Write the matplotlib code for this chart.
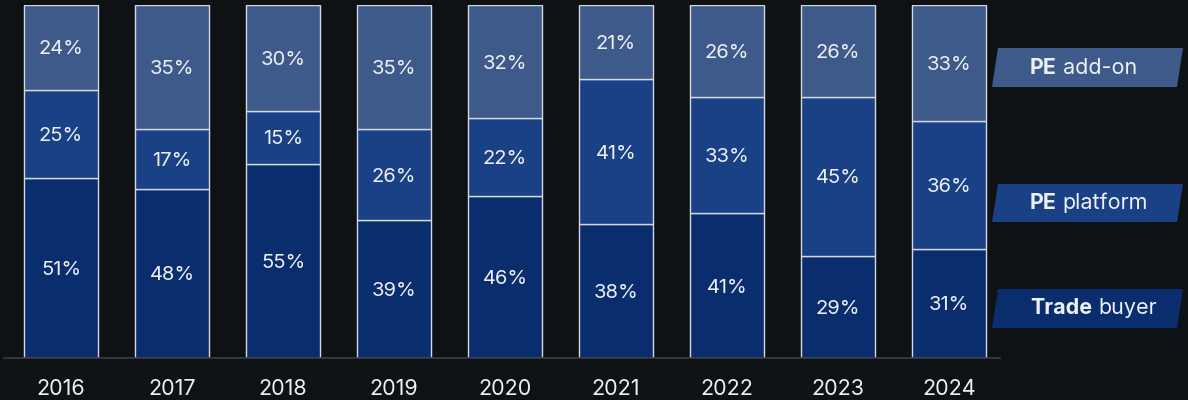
import matplotlib
matplotlib.use("Agg")
import matplotlib.pyplot as plt
from matplotlib.patches import Polygon
import numpy as np

years = ["2016", "2017", "2018", "2019", "2020", "2021", "2022", "2023", "2024"]
trade_buyer = [51, 48, 55, 39, 46, 38, 41, 29, 31]
pe_platform = [25, 17, 15, 26, 22, 41, 33, 45, 36]
pe_addon = [24, 35, 30, 35, 32, 21, 26, 26, 33]

series = [("Trade", "buyer", trade_buyer, "#0a2d6e"),
          ("PE", "platform", pe_platform, "#1a4185"),
          ("PE", "add-on", pe_addon, "#3d5a8a")]

BG = "#0f1215"
TXT = "#eef0f4"
plt.rcParams['font.family'] = ['Inter', 'DejaVu Sans']

W, H = 1188, 400
fig = plt.figure(figsize=(W / 100, H / 100), dpi=100, facecolor=BG)
ax = fig.add_axes([4 / W, 42 / H, 996 / W, 353 / H], facecolor=BG)

x = np.arange(len(years))
bottom = np.zeros(len(years))
for bold, rest, vals, col in series:
    vals = np.array(vals, dtype=float)
    ax.bar(x, vals, bottom=bottom, width=0.667, color=col,
           edgecolor="#d4d8e0", linewidth=1.0, zorder=2)
    for xi, b, v in zip(x, bottom, vals):
        ax.text(xi, b + v / 2 - 0.6, f"{int(v)}%", ha="center", va="center",
                color=TXT, fontsize=14.5, zorder=3)
    bottom += vals

ax.set_xlim(-0.514, 8.46)
ax.set_ylim(0, 100)
ax.set_xticks(x)
ax.set_xticklabels(years, color=TXT, fontsize=15.5)
ax.tick_params(axis="x", length=0, pad=15)
ax.set_yticks([])
for s in ["top", "right", "left"]:
    ax.spines[s].set_visible(False)
ax.spines["bottom"].set_color("#3a3e46")
ax.spines["bottom"].set_linewidth(1.2)

# legend boxes (parallelograms)
boxes = [(48, 87), (184, 222), (289, 328)]
leg = list(reversed(series))
for (top, bot), (bold, rest, _, col) in zip(boxes, leg):
    pts_px = [(992, bot), (998, top), (1183, top), (1177, bot)]
    pts = [(px / W, 1 - py / H) for px, py in pts_px]
    fig.patches.append(Polygon(pts, closed=True, transform=fig.transFigure,
                               facecolor=col, edgecolor="none"))
    yc = 1 - ((top + bot) / 2) / H
    t = fig.text(1030 / W, yc, bold, color=TXT, fontsize=15.5, fontweight="bold",
                 ha="left", va="center")
    fig.canvas.draw()
    bb = t.get_window_extent()
    fig.text((bb.x1 + 6) / W, yc, rest, color=TXT, fontsize=15.5,
             ha="left", va="center")

fig.savefig("out.png", dpi=100, facecolor=BG)
